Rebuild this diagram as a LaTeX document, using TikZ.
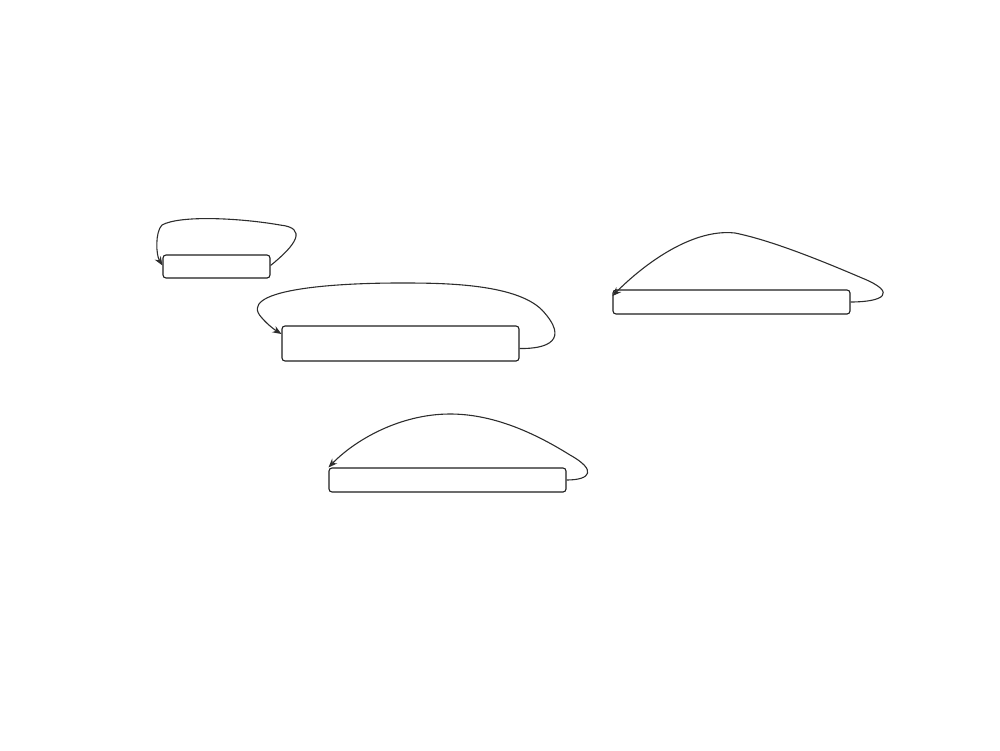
\documentclass[tikz,border=0pt]{standalone}
\usepackage{xcolor}
\usepackage{tikz}
\usetikzlibrary{arrows.meta}
\definecolor{ink}{RGB}{30,30,30}
\definecolor{loopline}{RGB}{45,45,45}
\tikzset{
  box/.style={
    draw=ink, line width=1.1pt, rounded corners=3pt, fill=white,
    minimum width=#1, inner sep=0pt,
  },
  box/.default=237pt,
  selfloop/.style={-{Stealth[length=9pt,width=7pt]}, line width=1.1pt, draw=loopline},
}

\begin{document}
\begin{tikzpicture}[x=1pt,y=-1pt]
  \useasboundingbox (0,0) rectangle (1000,750);

  \node[box=107pt, minimum height=23pt] (small) at (216.5,266.5) {};
  \node[box, minimum height=35pt] (wide) at (400.5,343.5) {};
  \node[box, minimum height=24pt] (right) at (731.5,302) {};
  \node[box, minimum height=24pt] (low) at (447.5,480) {};

  % loops back onto the same box
  \draw[selfloop] ([yshift=1pt]small.east) .. controls (296,245) and (308,228) .. (280,225)
    .. controls (240,218) and (180,215) .. (162,225)
    .. controls (155,232) and (156,255) .. ([yshift=1pt]small.west);
  \draw[selfloop] ([yshift=-5pt]wide.east) .. controls (548,349) and (570,340) .. (542,310)
    .. controls (515,283) and (440,283) .. (400,283)
    .. controls (330,283) and (235,290) .. (262,318)
    .. controls (268,325) and (275,330) .. ([yshift=9.5pt]wide.west);
  \draw[selfloop] (right.east) .. controls (883,302) and (899,293) .. (862,278)
    .. controls (820,260) and (770,240) .. (735,233)
    .. controls (690,228) and (640,268) .. ([yshift=6pt]right.west);
  \draw[selfloop] (low.east) .. controls (591,480) and (597,470) .. (570,455)
    .. controls (530,430) and (490,414) .. (450,414)
    .. controls (400,414) and (355,440) .. (low.north west);
\end{tikzpicture}
\end{document}
